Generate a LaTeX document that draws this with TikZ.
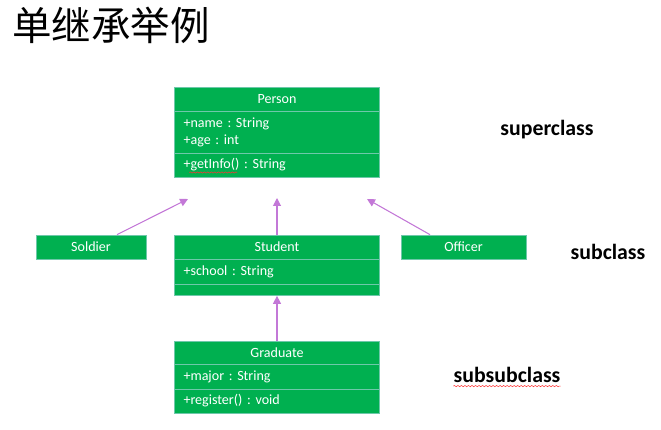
\documentclass[tikz,border=0pt]{standalone}
\usepackage{fontspec}
\setmainfont{Carlito}
\newfontfamily\cjk{Noto Sans CJK SC}
\usetikzlibrary{arrows.meta,decorations.pathmorphing}
\definecolor{clsgreen}{RGB}{0,176,80}
\definecolor{clsline}{RGB}{110,200,170}
\definecolor{inherit}{RGB}{195,120,215}
\frenchspacing
\begin{document}
\begin{tikzpicture}[x=0.02cm, y=-0.02cm]
  \tikzstyle{head} = [rectangle, draw=clsline, fill=clsgreen, text=white, inner sep=0pt, minimum height = 0.48cm, line width = 0.4pt, font=\fontsize{8}{9.6}\selectfont]
  \tikzstyle{part} = [head, align=left, inner xsep=0.18cm, text width=3.74cm]
  \tikzstyle{level} = [font=\bfseries\fontsize{12.4}{14}\selectfont, inner sep=0pt]
  \tikzstyle{arrow} = [-{Triangle[length=4.5pt, width=4.5pt]}, draw=inherit, fill=inherit, line width = 0.6pt]
  \tikzstyle{squiggle} = [draw=red!80, line width = 0.3pt, decorate, decoration={snake, amplitude=0.35pt, segment length=2pt}]

  \useasboundingbox (0,0) rectangle (661,429);

  \node [anchor=west, inner sep=0pt, font=\cjk\fontsize{22.5}{24}\selectfont] at (12,25) (title) {单继承举例};

  \node [head, minimum width = 4.1cm] at (277,99) (person) {Person};
  \node [part, minimum height = 0.84cm] at (277,132) (person_attr) {+name : String\\+age : int};
  \node [part, minimum height = 0.48cm] at (277,165) (person_ops) {+getInfo() : String};

  \node [head, minimum width = 2.2cm] at (91,247) (soldier) {Soldier};
  \node [head, minimum width = 4.1cm] at (277,247) (student) {Student};
  \node [part, minimum height = 0.5cm] at (277,271.5) (student_attr) {+school : String};
  \node [part, minimum height = 0.22cm] at (277,290) (student_ops) {};
  \node [head, minimum width = 2.5cm] at (463.5,247) (officer) {Officer};

  \node [head, minimum width = 4.1cm, minimum height = 0.46cm] at (277,352.5) (graduate) {Graduate};
  \node [part, minimum height = 0.5cm] at (277,376.5) (graduate_attr) {+major : String};
  \node [part, minimum height = 0.48cm] at (277,401) (graduate_ops) {+register() : void};

  \node [level] at (547,130) (super) {superclass};
  \node [level] at (608,252) (sub) {subclass};
  \node [level] at (507,375) (subsub) {subsubclass};

  \coordinate (to_left) at (188,199);
  \coordinate (to_mid) at (277,198);
  \coordinate (to_right) at (367,199);

  \draw[arrow] ([xshift=0.52cm]soldier.north) to (to_left);
  \draw[arrow] (student.north) to (to_mid);
  \draw[arrow] ([xshift=-0.67cm]officer.north) to (to_right);
  \draw[arrow] (graduate.north) to (student_ops.south);

  \draw[squiggle] ([xshift=0.3cm, yshift=-0.15cm]person_ops.west) -- ++(0.96cm,0);
  \draw[squiggle] ([yshift=-0.06cm]subsub.south west) -- ([yshift=-0.06cm]subsub.south east);
\end{tikzpicture}
\end{document}
